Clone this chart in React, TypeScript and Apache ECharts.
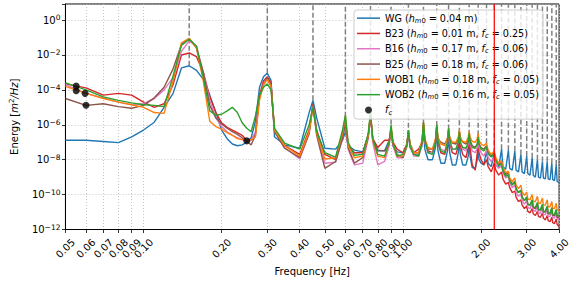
import React, { useEffect, useRef } from 'react';
import * as echarts from 'echarts';

const FONT = 'DejaVu Sans';

// Frequency grid [Hz]
const FREQ = [
  0.05, 0.06, 0.07, 0.08, 0.09, 0.10, 0.11, 0.12, 0.13, 0.14,
  0.15, 0.16, 0.17, 0.18, 0.19, 0.20, 0.21, 0.22, 0.23, 0.24,
  0.25, 0.26, 0.27, 0.28, 0.29, 0.30, 0.31, 0.32, 0.35, 0.40,
  0.435, 0.45, 0.465, 0.50, 0.55, 0.585, 0.60, 0.615, 0.65, 0.70,
  0.735, 0.75, 0.765, 0.80, 0.85, 0.885, 0.90, 0.915, 0.95, 1.00,
  1.035, 1.05, 1.065, 1.10, 1.15, 1.185, 1.20, 1.215, 1.25, 1.30,
  1.335, 1.35, 1.365, 1.40, 1.45, 1.485, 1.50, 1.515, 1.55, 1.60,
  1.635, 1.65, 1.665, 1.70, 1.75, 1.785, 1.80, 1.815, 1.85, 1.90,
  1.935, 1.95, 1.965, 2.00, 2.05, 2.10, 2.13, 2.19, 2.25, 2.28,
  2.34, 2.40, 2.43, 2.49, 2.55, 2.58, 2.64, 2.70, 2.73, 2.79,
  2.85, 2.88, 2.94, 3.00, 3.03, 3.09, 3.15, 3.18, 3.24, 3.30,
  3.33, 3.39, 3.45, 3.48, 3.54, 3.60, 3.63, 3.69, 3.75, 3.78,
  3.84, 3.90, 3.93, 4.00,
];

// Energy [m^2/Hz]
const WG = [
  1.3e-7, 1.3e-7, 1.1e-7, 9.5e-8, 2.0e-7, 5.0e-7, 1.4e-6, 1.0e-5, 6.3e-5, 1.8e-3,
  2.4e-3, 1.3e-3, 4.0e-4, 5.0e-5, 5.0e-6, 5.0e-7, 1.6e-7, 7.9e-8, 6.3e-8, 7.1e-8,
  1.0e-7, 1.8e-7, 1.6e-6, 1.4e-4, 5.6e-4, 8.9e-4, 3.5e-4, 2.0e-7, 7.1e-8, 4.5e-8,
  5.0e-6, 2.5e-5, 2.5e-6, 4.5e-8, 4.0e-8, 1.3e-7, 4.0e-7, 6.3e-8, 3.5e-8, 2.8e-8,
  2.5e-7, 3.2e-6, 1.6e-7, 3.2e-8, 3.2e-8, 1.3e-7, 4.0e-7, 6.3e-8, 2.8e-8, 2.5e-8,
  6.3e-8, 2.5e-7, 5.0e-8, 2.0e-8, 1.8e-8, 6.3e-8, 4.0e-7, 4.0e-8, 1.0e-8, 1.0e-8,
  5.0e-8, 3.2e-7, 3.2e-8, 6.3e-9, 6.3e-9, 3.2e-8, 2.0e-7, 2.5e-8, 5.0e-9, 5.0e-9,
  2.5e-8, 1.3e-7, 2.0e-8, 5.0e-9, 5.0e-9, 1.6e-8, 1.0e-7, 1.6e-8, 3.5e-9, 3.2e-9,
  1.0e-8, 3.5e-8, 1.0e-8, 6.3e-9, 5.0e-9, 3.2e-8, 6.3e-9, 4.0e-9, 2.5e-8, 5.0e-9,
  3.5e-9, 4.0e-8, 4.0e-9, 2.8e-9, 3.5e-8, 3.2e-9, 2.5e-9, 3.2e-8, 2.5e-9, 2.0e-9,
  2.0e-8, 2.0e-9, 1.6e-9, 1.6e-8, 1.6e-9, 1.3e-9, 1.3e-8, 1.3e-9, 1.0e-9, 1.0e-8,
  1.0e-9, 8.9e-10, 7.9e-9, 8.9e-10, 7.9e-10, 7.9e-9, 7.9e-10, 7.1e-10, 6.3e-9, 7.1e-10,
  6.3e-10, 5.0e-9, 5.6e-10, 5.0e-10,
];

const B23 = [
  2.2e-4, 1.3e-4, 5.0e-5, 6.3e-5, 5.0e-5, 2.0e-5, 1.0e-5, 1.6e-5, 2.0e-4, 1.0e-2,
  1.3e-2, 7.9e-3, 1.0e-3, 4.0e-5, 5.0e-6, 1.3e-6, 7.1e-7, 5.0e-7, 3.5e-7, 2.5e-7,
  1.3e-7, 1.3e-7, 3.2e-7, 5.0e-5, 3.2e-4, 5.6e-4, 2.5e-4, 5.0e-7, 6.3e-8, 2.0e-8,
  5.0e-7, 1.6e-5, 5.0e-7, 2.0e-8, 1.0e-8, 2.5e-7, 1.6e-6, 6.3e-8, 2.5e-8, 2.5e-8,
  2.5e-7, 2.5e-6, 1.6e-7, 5.0e-8, 1.3e-7, 1.3e-7, 5.0e-7, 1.0e-7, 4.0e-8, 2.5e-8,
  7.9e-8, 4.0e-7, 7.9e-8, 2.5e-8, 4.0e-8, 1.0e-7, 1.3e-6, 1.0e-7, 3.2e-8, 2.5e-8,
  1.0e-7, 7.9e-7, 1.0e-7, 2.5e-8, 2.0e-8, 7.9e-8, 5.0e-7, 1.0e-7, 2.5e-8, 2.0e-8,
  6.3e-8, 3.2e-7, 6.3e-8, 2.0e-8, 1.3e-8, 5.0e-8, 2.5e-7, 5.0e-8, 5.0e-9, 2.5e-9,
  2.5e-8, 1.0e-7, 2.5e-8, 1.0e-8, 5.0e-9, 1.0e-8, 4.0e-9, 2.0e-9, 6.3e-9, 2.5e-9,
  1.3e-9, 2.0e-9, 7.9e-10, 4.0e-10, 5.0e-10, 2.5e-10, 1.3e-10, 1.6e-10, 7.1e-11, 4.0e-11,
  5.0e-11, 2.5e-11, 1.6e-11, 2.2e-11, 1.1e-11, 8.9e-12, 1.6e-11, 7.9e-12, 6.3e-12, 1.1e-11,
  5.6e-12, 5.0e-12, 8.9e-12, 4.5e-12, 3.5e-12, 6.3e-12, 3.2e-12, 2.8e-12, 5.0e-12, 2.5e-12,
  2.2e-12, 4.0e-12, 2.0e-12, 1.4e-12,
];

const B16 = [
  2.0e-4, 6.3e-5, 3.5e-5, 2.0e-5, 1.4e-5, 1.6e-5, 3.2e-5, 1.0e-4, 5.0e-4, 1.6e-2,
  6.3e-2, 3.2e-2, 1.0e-3, 2.5e-5, 2.5e-6, 7.9e-7, 4.0e-7, 2.5e-7, 1.8e-7, 1.4e-7,
  1.1e-7, 1.3e-7, 4.0e-7, 4.0e-5, 2.0e-4, 4.0e-4, 1.6e-4, 4.0e-7, 5.0e-8, 1.1e-8,
  3.2e-7, 1.3e-5, 3.2e-7, 6.3e-9, 7.1e-9, 1.6e-7, 1.0e-6, 4.0e-8, 5.0e-9, 6.3e-9,
  1.6e-7, 4.0e-6, 1.0e-7, 5.0e-9, 7.9e-9, 6.3e-8, 6.3e-7, 6.3e-8, 1.3e-8, 1.3e-8,
  5.0e-8, 4.0e-7, 6.3e-8, 1.6e-8, 1.6e-8, 7.9e-8, 1.0e-6, 1.0e-7, 2.5e-8, 2.5e-8,
  1.0e-7, 7.9e-7, 1.3e-7, 4.0e-8, 3.2e-8, 1.0e-7, 5.0e-7, 1.0e-7, 4.0e-8, 4.0e-8,
  1.0e-7, 3.2e-7, 1.0e-7, 4.0e-8, 3.2e-8, 7.9e-8, 2.5e-7, 7.9e-8, 3.2e-8, 2.5e-8,
  5.0e-8, 1.3e-7, 5.0e-8, 2.5e-8, 1.6e-8, 3.5e-8, 1.4e-8, 7.9e-9, 1.4e-8, 5.6e-9,
  3.2e-9, 4.5e-9, 1.8e-9, 8.9e-10, 1.1e-9, 4.5e-10, 2.5e-10, 3.5e-10, 1.4e-10, 7.9e-11,
  1.1e-10, 4.5e-11, 2.8e-11, 4.5e-11, 1.8e-11, 1.6e-11, 3.2e-11, 1.3e-11, 1.1e-11, 2.2e-11,
  8.9e-12, 8.9e-12, 1.8e-11, 7.1e-12, 7.1e-12, 1.4e-11, 5.6e-12, 5.6e-12, 1.1e-11, 5.0e-12,
  4.5e-12, 1.0e-11, 4.0e-12, 4.0e-12,
];

const B25 = [
  3.2e-5, 1.3e-5, 1.6e-5, 1.1e-5, 8.9e-6, 1.3e-5, 3.5e-5, 1.4e-4, 1.6e-3, 4.0e-2,
  8.9e-2, 2.5e-2, 1.0e-3, 1.3e-5, 2.5e-6, 1.1e-6, 6.3e-7, 4.0e-7, 2.8e-7, 1.8e-7,
  1.1e-7, 7.1e-8, 2.5e-7, 4.0e-5, 2.0e-4, 5.0e-4, 2.0e-4, 4.0e-7, 4.5e-8, 1.3e-8,
  3.2e-7, 1.4e-5, 2.5e-7, 3.2e-9, 7.9e-9, 1.6e-7, 1.3e-6, 5.0e-8, 6.3e-9, 1.3e-8,
  2.0e-7, 4.0e-6, 1.3e-7, 3.5e-8, 3.2e-8, 7.9e-8, 6.3e-7, 7.9e-8, 2.0e-8, 1.3e-8,
  6.3e-8, 4.0e-7, 7.9e-8, 2.5e-8, 2.5e-8, 1.0e-7, 1.0e-6, 1.3e-7, 4.0e-8, 4.0e-8,
  1.3e-7, 7.9e-7, 1.6e-7, 1.0e-7, 7.9e-8, 1.6e-7, 5.0e-7, 1.6e-7, 8.9e-8, 7.9e-8,
  1.6e-7, 4.0e-7, 1.6e-7, 1.0e-7, 7.9e-8, 1.3e-7, 3.2e-7, 1.3e-7, 6.3e-8, 5.0e-8,
  7.9e-8, 1.6e-7, 7.9e-8, 5.0e-8, 4.0e-8, 6.3e-8, 2.8e-8, 1.6e-8, 2.5e-8, 1.0e-8,
  5.0e-9, 7.1e-9, 2.8e-9, 1.4e-9, 1.8e-9, 7.1e-10, 4.0e-10, 5.6e-10, 2.2e-10, 1.3e-10,
  1.8e-10, 7.1e-11, 4.5e-11, 7.1e-11, 2.8e-11, 2.5e-11, 4.5e-11, 1.8e-11, 1.6e-11, 3.2e-11,
  1.3e-11, 1.3e-11, 2.5e-11, 1.0e-11, 1.0e-11, 2.0e-11, 7.9e-12, 7.9e-12, 1.6e-11, 6.3e-12,
  6.3e-12, 1.3e-11, 5.0e-12, 5.0e-12,
];

const WOB1 = [
  1.6e-4, 6.3e-5, 3.2e-5, 2.0e-5, 1.4e-5, 1.0e-5, 5.0e-6, 4.5e-6, 3.2e-4, 5.0e-2,
  8.9e-2, 2.5e-2, 3.2e-4, 1.6e-6, 7.9e-7, 5.6e-7, 3.5e-7, 2.5e-7, 1.6e-7, 1.4e-7,
  1.3e-7, 1.4e-7, 2.0e-7, 2.5e-5, 2.0e-4, 4.0e-4, 1.6e-4, 5.0e-7, 6.3e-8, 1.6e-8,
  4.0e-7, 1.1e-5, 3.2e-7, 1.1e-8, 1.3e-8, 3.2e-7, 3.2e-6, 6.3e-8, 1.3e-8, 1.6e-8,
  2.5e-7, 5.0e-6, 1.3e-7, 1.6e-8, 1.3e-8, 1.0e-7, 7.9e-7, 1.0e-7, 1.6e-8, 1.6e-8,
  6.3e-8, 5.0e-7, 7.9e-8, 2.5e-8, 2.5e-8, 1.3e-7, 1.3e-6, 1.6e-7, 5.0e-8, 4.0e-8,
  1.6e-7, 1.0e-6, 2.0e-7, 7.9e-8, 6.3e-8, 1.6e-7, 6.3e-7, 2.0e-7, 1.0e-7, 1.0e-7,
  2.0e-7, 5.0e-7, 2.0e-7, 1.1e-7, 1.0e-7, 2.0e-7, 4.0e-7, 2.0e-7, 1.1e-7, 1.0e-7,
  1.6e-7, 3.2e-7, 1.3e-7, 7.9e-8, 6.3e-8, 8.9e-8, 3.5e-8, 2.0e-8, 3.2e-8, 1.3e-8,
  6.3e-9, 8.9e-9, 3.5e-9, 1.8e-9, 2.2e-9, 8.9e-10, 5.6e-10, 8.9e-10, 3.5e-10, 2.2e-10,
  3.5e-10, 1.4e-10, 8.9e-11, 1.4e-10, 5.6e-11, 5.0e-11, 1.0e-10, 4.0e-11, 4.0e-11, 7.9e-11,
  3.2e-11, 3.2e-11, 6.3e-11, 2.5e-11, 2.5e-11, 5.0e-11, 2.0e-11, 2.0e-11, 4.0e-11, 1.6e-11,
  1.6e-11, 3.2e-11, 1.3e-11, 1.3e-11,
];

const WOB2 = [
  2.5e-4, 1.0e-4, 4.0e-5, 2.5e-5, 1.8e-5, 1.4e-5, 1.3e-5, 1.1e-5, 6.3e-4, 3.5e-2,
  7.9e-2, 3.2e-2, 5.0e-4, 6.3e-6, 3.5e-6, 4.0e-6, 6.3e-6, 1.0e-5, 5.0e-6, 1.3e-6,
  6.3e-7, 4.0e-7, 3.2e-6, 5.0e-5, 1.4e-4, 2.2e-4, 1.0e-4, 6.3e-7, 8.9e-8, 4.0e-8,
  1.0e-6, 1.0e-5, 4.0e-7, 2.5e-8, 1.4e-8, 5.0e-7, 3.5e-6, 1.0e-7, 1.8e-8, 2.0e-8,
  3.2e-7, 5.6e-6, 1.6e-7, 2.0e-8, 1.6e-8, 1.0e-7, 1.0e-6, 1.0e-7, 1.6e-8, 2.0e-8,
  6.3e-8, 5.0e-7, 6.3e-8, 2.0e-8, 1.6e-8, 1.0e-7, 1.4e-6, 1.3e-7, 2.5e-8, 2.0e-8,
  1.0e-7, 1.0e-6, 1.3e-7, 3.2e-8, 2.5e-8, 1.0e-7, 6.3e-7, 1.3e-7, 4.0e-8, 4.0e-8,
  1.0e-7, 4.0e-7, 1.0e-7, 5.0e-8, 4.5e-8, 1.0e-7, 3.2e-7, 1.0e-7, 5.0e-8, 4.5e-8,
  7.9e-8, 2.0e-7, 7.9e-8, 4.0e-8, 3.2e-8, 5.6e-8, 2.2e-8, 1.4e-8, 2.2e-8, 8.9e-9,
  4.5e-9, 5.6e-9, 2.2e-9, 1.1e-9, 1.4e-9, 5.6e-10, 3.5e-10, 5.6e-10, 2.2e-10, 1.3e-10,
  1.8e-10, 7.1e-11, 4.5e-11, 7.1e-11, 2.8e-11, 2.5e-11, 5.0e-11, 2.0e-11, 1.8e-11, 3.5e-11,
  1.4e-11, 1.4e-11, 2.8e-11, 1.1e-11, 1.1e-11, 2.2e-11, 8.9e-12, 8.9e-12, 1.8e-11, 7.1e-12,
  7.1e-12, 1.4e-11, 6.3e-12, 6.3e-12,
];

// Cut-off frequency markers
const FC_FREQ = [0.055, 0.055, 0.0595, 0.06, 0.25];
const FC_ENERGY = [1.65e-4, 8.9e-5, 6.3e-5, 1.3e-5, 1.2e-7];

// Harmonics of the peak frequency (dashed) and the red reference line
const HARMONICS = [
  0.15, 0.30, 0.45, 0.60, 0.75, 0.90, 1.05, 1.20, 1.35, 1.50, 1.65, 1.80, 1.95,
  2.10, 2.25, 2.40, 2.55, 2.70, 2.85, 3.00, 3.15, 3.30, 3.45, 3.60, 3.75, 3.90,
];
const RED_LINE_FREQ = 2.25;

const X_TICKS = [0.05, 0.06, 0.07, 0.08, 0.09, 0.10, 0.20, 0.30, 0.40, 0.50, 0.60, 0.70, 0.80, 0.90, 1.00, 2.00, 3.00, 4.00];
const X_MIN = 0.05;
const X_MAX = 4.0;
const Y_MIN = 1e-12;
const Y_MAX = 8.3;

const SPECTRA = [
  { name: 'WG', values: WG, color: '#1f77b4', label: 'WG ({i|h}{si|m}{sn|0} = 0.04 m)' },
  { name: 'B23', values: B23, color: '#d62728', label: 'B23 ({i|h}{si|m}{sn|0} = 0.01 m, {i|f}{si|c} = 0.25)' },
  { name: 'B16', values: B16, color: '#e377c2', label: 'B16 ({i|h}{si|m}{sn|0} = 0.17 m, {i|f}{si|c} = 0.06)' },
  { name: 'B25', values: B25, color: '#8c564b', label: 'B25 ({i|h}{si|m}{sn|0} = 0.18 m, {i|f}{si|c} = 0.06)' },
  { name: 'WOB1', values: WOB1, color: '#ff7f0e', label: 'WOB1 ({i|h}{si|m}{sn|0} = 0.18 m, {i|f}{si|c} = 0.05)' },
  { name: 'WOB2', values: WOB2, color: '#2ca02c', label: 'WOB2 ({i|h}{si|m}{sn|0} = 0.16 m, {i|f}{si|c} = 0.05)' },
];

const lg = (v: number) => Math.log10(v);

function buildOption() {
  const legendLabels: Record<string, string> = { fc: '{i|f}{si|c}' };
  SPECTRA.forEach((s) => (legendLabels[s.name] = s.label));

  const harmonicSeries = HARMONICS.map((h) => {
    const idx = FREQ.findIndex((f) => Math.abs(f - h) < 1e-9);
    const low = WG[idx];
    return {
      type: 'line',
      data: [[lg(h), lg(low)], [lg(h), lg(Y_MAX)]],
      symbol: 'none',
      silent: true,
      z: 1,
      lineStyle: { color: '#808080', width: 1.5, type: [5, 2.5] },
    };
  });

  const spectraSeries = SPECTRA.map((s) => ({
    type: 'line',
    name: s.name,
    data: FREQ.map((f, i) => [lg(f), lg(s.values[i])]),
    symbol: 'none',
    showSymbol: false,
    silent: true,
    z: 3,
    color: s.color,
    itemStyle: { color: s.color },
    lineStyle: { color: s.color, width: 1.4 },
  }));

  const fcSeries = {
    type: 'scatter',
    name: 'fc',
    data: FC_FREQ.map((f, i) => [lg(f), lg(FC_ENERGY[i])]),
    symbol: 'circle',
    symbolSize: 7,
    silent: true,
    z: 5,
    itemStyle: { color: '#000000' },
  };

  const redLine = {
    type: 'line',
    data: [[lg(RED_LINE_FREQ), lg(Y_MIN)], [lg(RED_LINE_FREQ), lg(Y_MAX)]],
    symbol: 'none',
    silent: true,
    z: 6,
    lineStyle: { color: '#ff0000', width: 1.2 },
  };

  const lineIcon = 'path://M0,0H23V1.5H0Z';
  const gridLine = { show: true, lineStyle: { color: '#b8b8b8', width: 0.8, type: [1, 2] } };

  return {
    animation: false,
    textStyle: { fontFamily: FONT },
    grid: {
      left: 63.3,
      right: 13.9,
      top: 4,
      bottom: 53.5,
      show: true,
      borderColor: '#000',
      borderWidth: 1,
      backgroundColor: 'transparent',
      containLabel: false,
    },
    legend: {
      orient: 'vertical',
      left: 354,
      top: 10,
      align: 'left',
      itemWidth: 23,
      itemHeight: 7,
      itemGap: 3,
      padding: [2, 4, 3, 3],
      backgroundColor: 'rgba(255,255,255,0.8)',
      borderColor: '#cccccc',
      borderWidth: 1,
      borderRadius: 3,
      itemStyle: { borderWidth: 0 },
      selectedMode: false,
      data: [
        ...SPECTRA.map((s) => ({ name: s.name, icon: lineIcon })),
        { name: 'fc', icon: 'circle' },
      ],
      formatter: (name: string) => legendLabels[name] || name,
      textStyle: {
        fontFamily: FONT,
        fontSize: 9.6,
        color: '#000',
        lineHeight: 12.3,
        rich: {
          i: { fontFamily: FONT, fontSize: 9.6, fontStyle: 'italic', color: '#000', lineHeight: 12.3 },
          si: { fontFamily: FONT, fontSize: 6.8, fontStyle: 'italic', color: '#000', verticalAlign: 'bottom', lineHeight: 7 },
          sn: { fontFamily: FONT, fontSize: 6.8, color: '#000', verticalAlign: 'bottom', lineHeight: 7 },
        },
      },
    },
    xAxis: {
      type: 'value',
      min: lg(X_MIN),
      max: lg(X_MAX),
      name: 'Frequency [Hz]',
      nameLocation: 'middle',
      nameGap: 33,
      nameTextStyle: { fontFamily: FONT, fontSize: 10, color: '#000' },
      axisLine: { show: true, onZero: false, lineStyle: { color: '#000', width: 1 } },
      axisTick: {
        show: true,
        length: 3.5,
        customValues: X_TICKS.map(lg),
        lineStyle: { color: '#000', width: 0.8 },
      },
      axisLabel: {
        customValues: X_TICKS.map(lg),
        rotate: 45,
        align: 'center',
        verticalAlign: 'middle',
        margin: 19,
        fontFamily: FONT,
        fontSize: 10,
        color: '#000',
        formatter: (v: number) => Math.pow(10, v).toFixed(2),
      },
      splitLine: gridLine,
    },
    yAxis: {
      type: 'value',
      min: lg(Y_MIN),
      max: lg(Y_MAX),
      interval: 2,
      name: 'Energy [{i|m}{sup|2}{i|/Hz}]',
      nameLocation: 'middle',
      nameGap: 39,
      nameRotate: 90,
      nameTextStyle: {
        fontFamily: FONT,
        fontSize: 10,
        color: '#000',
        lineHeight: 13,
        rich: {
          i: { fontFamily: FONT, fontSize: 10, fontStyle: 'italic', color: '#000', lineHeight: 13 },
          sup: { fontFamily: FONT, fontSize: 7, color: '#000', verticalAlign: 'top', lineHeight: 8 },
        },
      },
      axisLine: { show: true, onZero: false, lineStyle: { color: '#000', width: 1 } },
      axisTick: { show: true, length: 3.5, lineStyle: { color: '#000', width: 0.8 } },
      axisLabel: {
        margin: 5,
        fontFamily: FONT,
        fontSize: 10,
        color: '#000',
        lineHeight: 13,
        formatter: (v: number) => {
          const r = Math.round(v);
          if (Math.abs(v - r) > 1e-9 || r % 2 !== 0) return '';
          const e = r < 0 ? '\u2212' + String(-r) : String(r);
          return '{b|10}{s|' + e + '}';
        },
        rich: {
          b: { fontFamily: FONT, fontSize: 10, color: '#000', lineHeight: 13 },
          s: { fontFamily: FONT, fontSize: 7.5, color: '#000', verticalAlign: 'top', lineHeight: 8 },
        },
      },
      splitLine: gridLine,
    },
    series: [...harmonicSeries, ...spectraSeries, fcSeries, redLine],
  };
}

export default function App() {
  const ref = useRef<HTMLDivElement>(null);
  useEffect(() => {
    if (!ref.current) return;
    const chart = echarts.init(ref.current, null, { renderer: 'svg' });
    chart.setOption(buildOption() as any);
    return () => chart.dispose();
  }, []);
  return (
    <div
      ref={ref}
      style={{ position: 'absolute', left: 0, top: 0, width: 573, height: 283 }}
    />
  );
}
